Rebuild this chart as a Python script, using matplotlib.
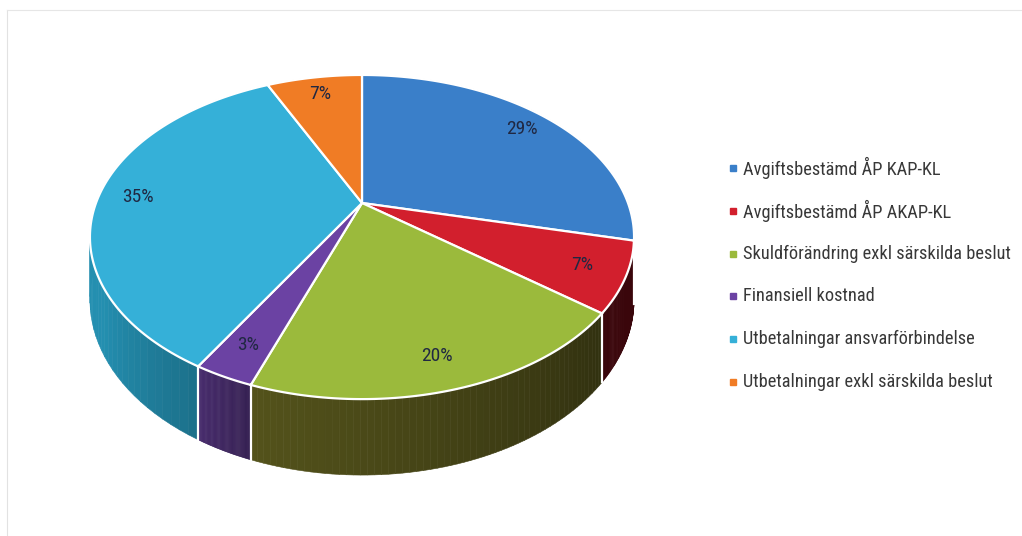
import numpy as np
import matplotlib.pyplot as plt
from matplotlib.collections import PolyCollection
from matplotlib.colors import to_rgb

# %% data
labels = [
    "Avgiftsbestämd ÅP KAP-KL",
    "Avgiftsbestämd ÅP AKAP-KL",
    "Skuldförändring exkl särskilda beslut",
    "Finansiell kostnad",
    "Utbetalningar ansvarförbindelse",
    "Utbetalningar exkl särskilda beslut",
]
values = [29, 7, 20, 3, 35, 7]

top_colors = ["#3a7fc9", "#d21f2d", "#9bba3c", "#6b42a3", "#35b0d8", "#f07c25"]
side_colors = ["#2f6db0", "#c01525", "#a8a636", "#6b40a5", "#2aa8cf", "#e06a20"]

plt.rcParams["font.family"] = ["Roboto Condensed", "Liberation Sans Narrow", "Lato", "DejaVu Sans"]

# %% perspective disc in pixel space
CX, CY0 = 362, 203      # projected centre of the disc
A = 266                 # horizontal scale
ALPHA, GAMMA = 112.3, -0.21
H = 60                  # thickness


def proj(theta, r=1.0, depth=0.0):
    u = r * np.sin(theta)
    v = -r * np.cos(theta)
    d = 1 + GAMMA * v
    x = CX + A * u / d
    y = (ALPHA * v + CY0) / d + depth * H / d
    return x, y


def shade(theta):
    deg = np.degrees(theta) % 360
    return np.interp(deg, [0, 130, 200, 212, 240, 360], [0.3, 0.3, 0.5, 0.68, 0.85, 0.85])


fracs = np.array(values) / np.sum(values)
edges = np.concatenate([[0], np.cumsum(fracs)]) * 2 * np.pi

fig = plt.figure(figsize=(10.22, 5.36), dpi=100)
ax = fig.add_axes([0, 0, 1, 1])
ax.set_xlim(0, 1022)
ax.set_ylim(536, 0)
ax.axis("off")

# side walls, far ones first
quads, cols, depths = [], [], []
for i in range(len(values)):
    th = np.linspace(edges[i], edges[i + 1], 60)
    base = np.array(to_rgb(side_colors[i]))
    for a0, a1 in zip(th[:-1], th[1:]):
        x0, y0 = proj(a0)
        x1, y1 = proj(a1)
        x2, y2 = proj(a1, depth=1)
        x3, y3 = proj(a0, depth=1)
        quads.append([(x0, y0), (x1, y1), (x2, y2), (x3, y3)])
        cols.append(np.clip(base * shade((a0 + a1) / 2), 0, 1))
        depths.append(-np.cos((a0 + a1) / 2))
order = np.argsort(depths)
ax.add_collection(PolyCollection([quads[k] for k in order],
                                 facecolors=[cols[k] for k in order],
                                 edgecolors=[cols[k] for k in order], linewidths=0.4))

# white seams on the visible wall
for e in edges:
    if np.cos(e) < 0.2:
        xt, yt = proj(e)
        xb, yb = proj(e, depth=1)
        ax.plot([xt, xb], [yt, yb], color="white", lw=1.6)

# top faces
for i in range(len(values)):
    th = np.linspace(edges[i], edges[i + 1], 120)
    xs, ys = proj(th)
    pts = [(CX, CY0)] + list(zip(xs, ys))
    ax.add_patch(plt.Polygon(pts, closed=True, facecolor=top_colors[i],
                             edgecolor="white", lw=1.6))

# percentage labels
for i, v in enumerate(values):
    mid = (edges[i] + edges[i + 1]) / 2
    lx, ly = proj(mid, r=0.85)
    ax.text(lx, ly, f"{v}%", ha="center", va="center", fontsize=14, color="#202842")

# faint scan frame
ax.plot([7, 7], [10, 536], color="#e2e2e2", lw=0.8)
ax.plot([7, 1022], [10, 10], color="#e6e6e6", lw=0.8)

# legend
for i, (lab, c) in enumerate(zip(labels, top_colors)):
    ly = 168 + i * 42.8
    ax.plot(733, ly, marker="s", color=c, markersize=5)
    ax.text(743, ly, lab, ha="left", va="center", fontsize=13.2, color="#383838")

fig.savefig("out.png", dpi=100)
